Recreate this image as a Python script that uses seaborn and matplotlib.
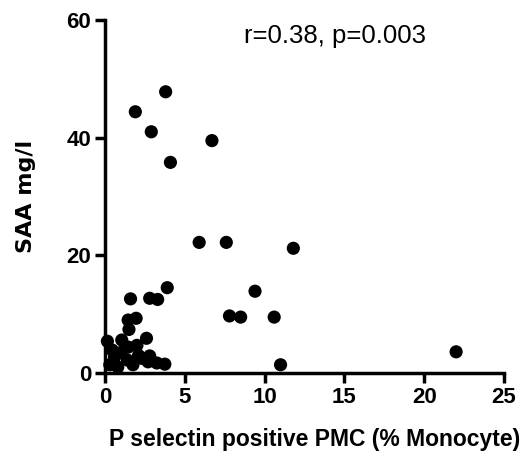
import numpy as np
import pandas as pd
import seaborn as sns
import matplotlib.pyplot as plt
from matplotlib import font_manager

# values
pmc_pct = [3.8, 1.9, 2.9, 6.7, 4.1, 5.9, 7.6, 11.8, 3.9, 9.4,
           1.6, 2.8, 3.3, 7.8, 8.5, 10.6, 11.0, 22.0, 1.45, 1.95,
           1.5, 0.15, 1.05, 2.6, 0.45, 1.45, 2.0, 0.6, 2.1, 2.8,
           0.3, 0.8, 1.75, 2.7, 3.25, 3.75, 1.4, 1.0, 2.3]
saa_mgl = [47.8, 44.4, 41.0, 39.5, 35.8, 22.2, 22.2, 21.2, 14.5, 13.9,
           12.6, 12.7, 12.5, 9.7, 9.5, 9.5, 1.4, 3.6, 9.0, 9.3,
           7.4, 5.4, 5.6, 5.9, 3.9, 4.4, 4.7, 2.7, 3.0, 2.9,
           1.4, 1.0, 1.4, 1.9, 1.7, 1.5, 2.2, 3.5, 2.5]
x_ticks = [0, 5, 10, 15, 20, 25]
y_ticks = [0, 20, 40, 60]
stats_text = "r=0.38, p=0.003"

df = pd.DataFrame({"pmc": pmc_pct, "saa": saa_mgl})

sns.set_style("ticks")
installed = {f.name for f in font_manager.fontManager.ttflist}
narrow = "Liberation Sans Narrow" if "Liberation Sans Narrow" in installed else "Liberation Sans"
plt.rcParams["font.family"] = [narrow, "DejaVu Sans"]
plt.rcParams.update({"text.color": "black", "axes.labelcolor": "black",
                     "axes.edgecolor": "black", "xtick.color": "black",
                     "ytick.color": "black"})

fig = plt.figure(figsize=(5.27, 4.59), dpi=100)
ax = fig.add_axes([105 / 527, 1 - 373 / 459, 399 / 527, 353 / 459])

sns.scatterplot(data=df, x="pmc", y="saa", ax=ax, color="black",
                edgecolor="none", s=90, clip_on=False, zorder=3)

ax.set_xlim(0, 25)
ax.set_ylim(0, 60)
ax.set_xticks(x_ticks)
ax.set_yticks(y_ticks)
sns.despine(ax=ax)
for side in ["left", "bottom"]:
    ax.spines[side].set_linewidth(2.5)
ax.tick_params(width=2.5, length=7, direction="out", labelsize=16, pad=3)
for lab in ax.get_xticklabels() + ax.get_yticklabels():
    lab.set_fontweight("bold")

ax.set_xlabel("P selectin positive PMC (% Monocyte)", fontsize=16.5,
              fontweight="bold")
ax.xaxis.set_label_coords(0.525, -0.155)
ax.set_ylabel("SAA mg/l", fontsize=16, fontweight="bold",
              family="DejaVu Sans", labelpad=22)
ax.text(0.576, 0.955, stats_text, transform=ax.transAxes, fontsize=18.5,
        ha="center", va="center")

fig.savefig("out.png", dpi=100)
